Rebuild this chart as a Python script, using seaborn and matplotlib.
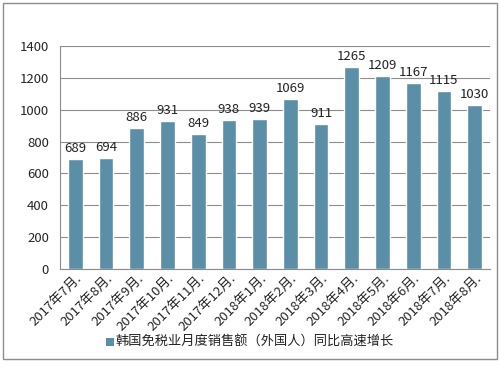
import matplotlib
matplotlib.use("Agg")
import matplotlib.pyplot as plt
import seaborn as sns
import pandas as pd
from matplotlib.patches import Rectangle

months = ["2017年7月.", "2017年8月.", "2017年9月.", "2017年10月.", "2017年11月.", "2017年12月.",
          "2018年1月.", "2018年2月.", "2018年3月.", "2018年4月.", "2018年5月.", "2018年6月.",
          "2018年7月.", "2018年8月."]
values = [689, 694, 886, 931, 849, 938, 939, 1069, 911, 1265, 1209, 1167, 1115, 1030]
series_name = "韩国免税业月度销售额（外国人）同比高速增长"
yticks = [0, 200, 400, 600, 800, 1000, 1200, 1400]

sns.set_theme(style="white")
plt.rcParams['font.family'] = ['Noto Sans CJK SC', 'DejaVu Sans']

df = pd.DataFrame({"month": months, "value": values})
color = "#5B8FA8"
fs = 9.5

fig = plt.figure(figsize=(5, 3.67), dpi=100)
ax = fig.add_axes([0.12, 0.267, 0.86, 0.608])
sns.barplot(data=df, x="month", y="value", color=color, width=0.48, saturation=1, ax=ax)

ax.set_ylim(0, 1400)
ax.set_yticks(yticks)
ax.set_yticklabels([str(t) for t in yticks], fontsize=fs)
ax.yaxis.grid(True, color="#8c8c8c", linewidth=0.8)
ax.set_axisbelow(True)
for s in ["top", "right"]:
    ax.spines[s].set_visible(False)
for s in ["left", "bottom"]:
    ax.spines[s].set_color("#8c8c8c")
    ax.spines[s].set_linewidth(0.8)
ax.tick_params(axis="y", length=0, pad=8)
ax.tick_params(axis="x", length=0, pad=2)
ax.set_xlabel("")
ax.set_ylabel("")
ax.set_xlim(-0.5, len(months) - 0.5)
for lbl in ax.get_xticklabels():
    lbl.set_rotation(45)
    lbl.set_ha("right")
    lbl.set_rotation_mode("anchor")
    lbl.set_fontsize(fs)

for i, v in enumerate(values):
    ax.text(i, v + 25, str(v), ha="center", va="bottom", fontsize=fs, color="#222222")

# legend
fig.patches.append(Rectangle((0.212, 0.058), 0.016, 0.022, transform=fig.transFigure,
                             facecolor=color, edgecolor="none"))
fig.text(0.232, 0.068, series_name, fontsize=fs, ha="left", va="center", color="#222222")

fig.patches.append(Rectangle((0.006, 0.022), 0.988, 0.97, transform=fig.transFigure,
                             fill=False, edgecolor="#8c8c8c", linewidth=1))

fig.savefig("out.png", dpi=100)
